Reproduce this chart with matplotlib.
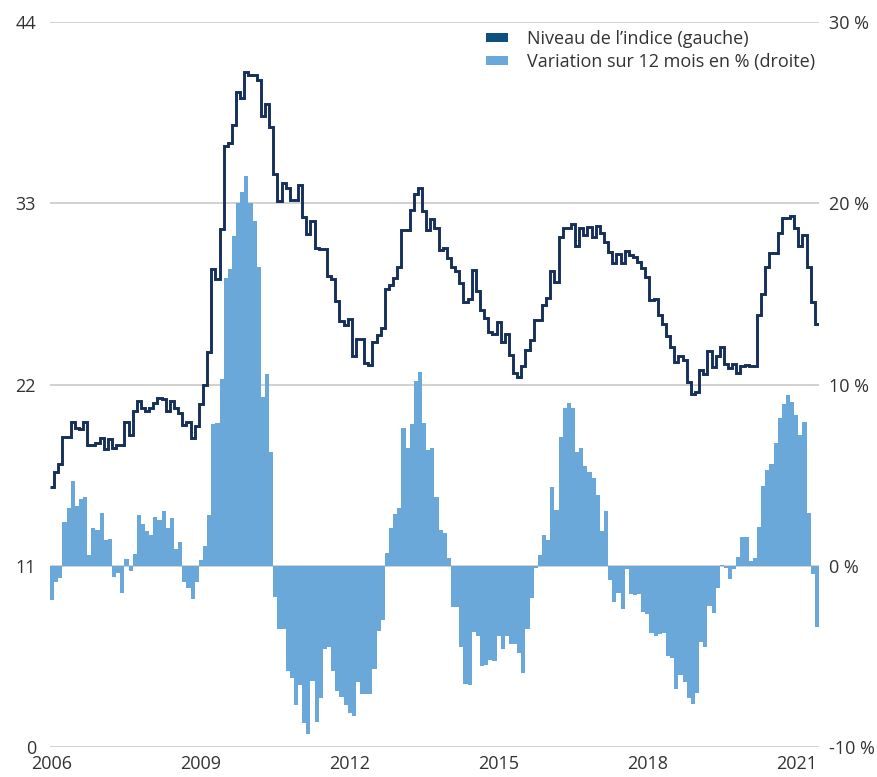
import numpy as np
import matplotlib
matplotlib.use("Agg")
import matplotlib.pyplot as plt
from matplotlib.patches import Patch

plt.rcParams['font.family'] = ['Open Sans', 'DejaVu Sans']

# ---- data (monthly, Jan 2006 .. Jun 2021) ----
year_labels = ["2006", "2009", "2012", "2015", "2018", "2021"]
right_tick_labels = ["-10 %", "0 %", "10 %", "20 %", "30 %"]
left_ticks = [0, 11, 22, 33, 44]
right_ticks = [-10, 0, 10, 20, 30]

index_level = [
    15.8, 16.7, 17.2, 18.8, 18.8, 19.75, 19.35, 19.3, 19.7, 18.3, 18.3, 18.45,
    18.75, 18.1, 18.7, 18.15, 18.35, 18.35, 19.7, 18.95, 20.4, 21.0, 20.55, 20.4,
    20.55, 20.9, 21.2, 21.15, 20.4, 21.0, 20.55, 20.3, 19.55, 19.75, 18.75, 19.5,
    20.8, 21.95, 24.0, 29.0, 28.4, 31.45, 36.5, 36.65, 37.75, 39.75, 39.4, 40.95,
    40.8, 40.8, 40.5, 38.3, 39.0, 37.65, 34.8, 33.15, 34.25, 33.95, 33.2, 33.2,
    34.1, 32.15, 31.15, 31.95, 30.3, 30.25, 30.2, 28.6, 28.42, 27.05, 25.85, 25.6,
    25.96, 23.75, 24.75, 24.75, 23.3, 23.17, 24.58, 25.0, 25.45, 27.8, 28.05, 28.45,
    29.15, 31.4, 31.4, 32.6, 33.55, 33.95, 32.5, 31.4, 32.05, 31.5, 30.15, 30.3,
    29.66, 29.12, 28.9, 28.15, 27.03, 27.2, 28.92, 27.65, 26.5, 26.05, 25.2, 25.06,
    25.8, 24.58, 25.05, 23.82, 22.72, 22.48, 23.1, 24.07, 24.7, 25.9, 25.92, 26.82,
    27.27, 28.9, 28.2, 30.93, 31.48, 31.48, 31.77, 30.4, 31.5, 31.07, 31.57, 30.96,
    31.6, 31.2, 30.66, 30.05, 29.4, 29.9, 29.4, 30.1, 29.83, 29.75, 29.43, 29.06,
    28.55, 27.1, 27.2, 26.2, 25.7, 24.95, 24.27, 23.35, 23.75, 23.5, 22.18, 21.43,
    21.53, 22.85, 22.63, 24.05, 23.07, 23.7, 24.3, 23.22, 23.0, 23.22, 22.68, 23.15,
    23.2, 23.15, 23.1, 26.2, 27.48, 29.15, 29.98, 30.0, 31.2, 32.12, 32.12, 32.2,
    31.5, 30.4, 31.1, 29.15, 27.0, 25.68,
]

change_12m = [
    -1.9, -0.9, -0.7, 2.4, 3.2, 4.7, 3.3, 3.7, 3.8, 0.6, 2.1, 2.0,
    2.9, 1.4, 1.45, -0.6, -0.4, -1.5, 0.35, -0.3, 0.65, 2.8, 2.3, 1.9,
    1.7, 2.7, 2.55, 3.0, 2.1, 2.65, 0.9, 1.3, -0.9, -1.25, -1.85, -0.9,
    0.3, 1.1, 2.8, 7.8, 7.9, 10.3, 15.9, 16.4, 18.2, 20.0, 20.6, 21.5,
    20.0, 19.0, 16.5, 9.3, 10.6, 6.3, -1.7, -3.5, -3.5, -5.8, -6.2, -7.7,
    -6.6, -8.7, -9.3, -6.35, -8.6, -7.3, -4.6, -4.5, -5.8, -6.9, -7.25, -7.7,
    -8.15, -8.3, -6.4, -7.1, -7.05, -7.1, -5.7, -3.6, -3.0, 0.7, 2.1, 2.85,
    3.2, 7.6, 6.5, 7.8, 10.2, 10.7, 7.9, 6.4, 6.5, 3.8, 2.0, 1.8,
    0.45, -2.3, -2.3, -4.5, -6.5, -6.6, -3.65, -3.85, -5.55, -5.5, -5.2, -5.25,
    -3.85, -4.6, -3.85, -4.3, -4.3, -4.8, -5.9, -3.5, -1.8, -0.1, 0.6, 1.7,
    1.4, 4.35, 3.1, 7.1, 8.7, 9.0, 8.7, 6.3, 6.5, 5.5, 5.2, 4.85,
    3.9, 1.9, 3.0, -0.8, -2.0, -1.5, -2.4, -0.2, -1.55, -1.6, -1.55, -2.55,
    -2.65, -3.7, -3.9, -3.75, -3.7, -5.0, -5.1, -6.8, -6.0, -6.4, -7.3, -7.6,
    -7.0, -4.2, -4.5, -2.2, -2.6, -1.2, 0.05, -0.1, -0.75, -0.2, 0.5, 1.6,
    1.6, 0.25, 0.45, 2.15, 4.4, 5.3, 5.6, 6.75, 8.15, 8.9, 9.4, 9.05,
    8.3, 7.2, 7.95, 2.9, -0.45, -3.4,
]

legend_labels = ["Niveau de l\u2019indice (gauche)", "Variation sur 12 mois en % (droite)"]

# ---- styling ----
line_color = "#16305a"
bar_color = "#6ba8da"
legend_dark = "#0d4f7e"
grid_color = "#c9c9c9"
text_color = "#333333"
fs = 13

n = len(index_level)
months = np.arange(n)

fig = plt.figure(figsize=(8.78, 7.77), dpi=100)
ax = fig.add_axes([50 / 878, 30 / 777, 769 / 878, 725 / 777])
ax2 = ax.twinx()

# bars on right axis
ax2.bar(months, change_12m, width=1.0, color=bar_color, linewidth=0, zorder=2)
ax2.set_ylim(-10, 30)
ax2.set_yticks(right_ticks)
ax2.set_yticklabels(right_tick_labels)

# line on left axis
ax.stairs(index_level, edges=np.arange(n + 1) - 0.5, baseline=None,
          color=line_color, linewidth=2.1, zorder=3)
ax.set_ylim(0, 44)
ax.set_yticks(left_ticks)
ax.set_xlim(-0.5, n - 0.5)
ax.set_xticks(np.arange(len(year_labels)) * 36)
ax.set_xticklabels(year_labels)

# gridlines (drawn on bar axis, behind bars)
for v in right_ticks:
    ax2.axhline(v, color=grid_color, linewidth=1.2, zorder=0)

ax.set_zorder(ax2.get_zorder() + 1)
ax.patch.set_visible(False)

for a in (ax, ax2):
    for s in a.spines.values():
        s.set_visible(False)
ax.tick_params(axis='y', length=0, pad=10, labelsize=fs, labelcolor=text_color)
ax.tick_params(axis='x', length=0, pad=6, labelsize=fs, labelcolor=text_color)
ax2.tick_params(axis='y', length=0, pad=7, labelsize=fs, labelcolor=text_color)

handles = [Patch(facecolor=legend_dark, edgecolor='none'),
           Patch(facecolor=bar_color, edgecolor='none')]
leg = fig.legend(handles, legend_labels, loc='upper left',
                 bbox_to_anchor=(486 / 878, 1 - 30 / 777), frameon=False,
                 fontsize=fs, handlelength=1.2, handleheight=0.45,
                 handletextpad=1.05, labelspacing=0.28, borderpad=0, borderaxespad=0)
for t in leg.get_texts():
    t.set_color(text_color)

fig.savefig("out.png", dpi=100)
